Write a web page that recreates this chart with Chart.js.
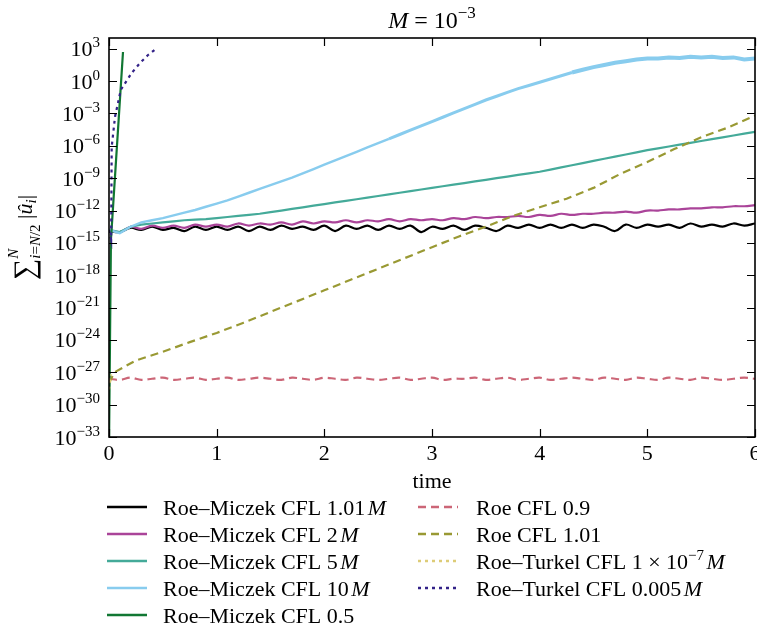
<!DOCTYPE html>
<html>
<head>
<meta charset="utf-8">
<script src="https://cdn.jsdelivr.net/npm/chart.js@4.4.1/dist/chart.umd.min.js"></script>
<style>
  html, body { margin: 0; padding: 0; background: #fff; }
  canvas { display: block; }
</style>
</head>
<body>
<canvas id="chart" width="757" height="626"></canvas>
<script>
'use strict';

const FONT = '"Liberation Serif", "Times New Roman", serif';
const BASE = 22;   // main text size
const SMALL = 15;  // super/subscripts

// series names, in plotting order
const seriesLabels = [
  'Roe–Miczek CFL 1.01 M', 'Roe–Miczek CFL 2 M', 'Roe–Miczek CFL 5 M',
  'Roe–Miczek CFL 10 M', 'Roe–Miczek CFL 0.5', 'Roe CFL 0.9', 'Roe CFL 1.01',
  'Roe–Turkel CFL 1 × 10^−7 M', 'Roe–Turkel CFL 0.005 M'
];
const seriesColors = ['#000000', '#AA4499', '#44AA99', '#88CCEE', '#117733',
  '#CC6677', '#999933', '#DDCC77', '#332288'];
const seriesDash = ['solid', 'solid', 'solid', 'solid', 'solid',
  'dashed', 'dashed', 'dotted', 'dotted'];

const xTicks = [0, 1, 2, 3, 4, 5, 6];
const yTickExps = [3, 0, -3, -6, -9, -12, -15, -18, -21, -24, -27, -30, -33];

// common time grid for the long runs
const timeGrid = [
  0.0, 0.1, 0.2, 0.3, 0.4, 0.5, 0.6, 0.7, 0.8, 0.9,
  1.0, 1.1, 1.2, 1.3, 1.4, 1.5, 1.6, 1.7, 1.8, 1.9,
  2.0, 2.1, 2.2, 2.3, 2.4, 2.5, 2.6, 2.7, 2.8, 2.9,
  3.0, 3.1, 3.2, 3.3, 3.4, 3.5, 3.6, 3.7, 3.8, 3.9,
  4.0, 4.1, 4.2, 4.3, 4.4, 4.5, 4.6, 4.7, 4.8, 4.9,
  5.0, 5.1, 5.2, 5.3, 5.4, 5.5, 5.6, 5.7, 5.8, 5.9,
  6.0
];

// values are stored as log10 exponents
const miczek101Exp = [
  -13.9, -14.0, -13.6, -13.8, -13.5, -13.8, -13.6, -13.9, -13.5, -13.8,
  -13.5, -13.8, -13.5, -13.9, -13.5, -13.8, -13.4, -13.7, -13.5, -13.8,
  -13.4, -13.9, -13.4, -13.7, -13.4, -13.8, -13.4, -13.7, -13.4, -14.0,
  -13.5, -13.7, -13.4, -13.8, -13.4, -13.6, -13.9, -13.4, -13.6, -13.3,
  -13.6, -13.3, -13.6, -13.3, -13.6, -13.3, -13.5, -13.9, -13.3, -13.6,
  -13.3, -13.5, -13.3, -13.6, -13.2, -13.5, -13.3, -13.5, -13.2, -13.4,
  -13.2
];
const miczek2Exp = [
  -13.8, -14.0, -13.5, -13.7, -13.4, -13.6, -13.4, -13.6, -13.3, -13.5,
  -13.3, -13.5, -13.2, -13.4, -13.2, -13.3, -13.1, -13.3, -13.0, -13.2,
  -13.0, -13.1, -12.9, -13.1, -12.9, -13.0, -12.8, -13.0, -12.8, -12.9,
  -12.8, -12.9, -12.7, -12.8, -12.6, -12.7, -12.6, -12.6, -12.5, -12.6,
  -12.4, -12.5, -12.3, -12.4, -12.3, -12.3, -12.2, -12.2, -12.1, -12.2,
  -12.0, -12.0, -11.9, -11.9, -11.8, -11.8, -11.7, -11.7, -11.6, -11.6,
  -11.5
];
const miczek5Exp = [
  -13.8, -14.0, -13.5, -13.3, -13.2, -13.1, -13.0, -12.9, -12.85, -12.8,
  -12.7, -12.6, -12.5, -12.4, -12.3, -12.15, -12.0, -11.85, -11.7, -11.55,
  -11.4, -11.25, -11.1, -10.95, -10.8, -10.65, -10.5, -10.35, -10.2, -10.05,
  -9.9, -9.75, -9.6, -9.45, -9.3, -9.15, -9.0, -8.85, -8.7, -8.55,
  -8.4, -8.2, -8.0, -7.8, -7.6, -7.4, -7.2, -7.0, -6.8, -6.6,
  -6.4, -6.23, -6.06, -5.89, -5.72, -5.55, -5.38, -5.21, -5.04, -4.87,
  -4.7
];
const miczek10Exp = [
  -13.8, -14.1, -13.5, -13.1, -12.9, -12.7, -12.45, -12.2, -11.95, -11.65,
  -11.35, -11.05, -10.7, -10.35, -10.0, -9.65, -9.3, -8.95, -8.55, -8.15,
  -7.75, -7.35, -6.95, -6.55, -6.15, -5.75, -5.35, -4.95, -4.55, -4.15,
  -3.75, -3.35, -2.95, -2.55, -2.15, -1.75, -1.4, -1.05, -0.7, -0.4,
  -0.1, 0.2, 0.5, 0.8, 1.05, 1.3, 1.5, 1.7, 1.85, 2.0,
  2.1, 2.1, 2.2, 2.15, 2.25, 2.2, 2.25, 2.15, 2.2, 2.0,
  2.1
];
const roe09Exp = [
  -27.6, -27.7, -27.5, -27.7, -27.6, -27.5, -27.7, -27.6, -27.5, -27.7,
  -27.6, -27.5, -27.7, -27.6, -27.5, -27.6, -27.7, -27.5, -27.6, -27.7,
  -27.5, -27.6, -27.7, -27.5, -27.6, -27.7, -27.6, -27.5, -27.7, -27.6,
  -27.5, -27.7, -27.6, -27.6, -27.5, -27.7, -27.6, -27.5, -27.7, -27.6,
  -27.5, -27.7, -27.6, -27.5, -27.6, -27.7, -27.5, -27.6, -27.7, -27.5,
  -27.6, -27.7, -27.5, -27.6, -27.7, -27.5, -27.6, -27.7, -27.6, -27.5,
  -27.6
];

const roe101Time = [0, 0.05, 0.25, 0.5, 0.75, 1.0, 1.25, 1.5, 1.75, 2.0, 2.25, 2.5, 2.75,
  3.0, 3.25, 3.5, 3.75, 4.0, 4.25, 4.5, 4.75, 5.0, 5.25, 5.5, 5.75, 6.0];
const roe101Exp = [-28.0, -27.0, -25.9, -25.1, -24.2, -23.35, -22.4, -21.4, -20.4, -19.4,
  -18.4, -17.4, -16.4, -15.4, -14.4, -13.5, -12.5, -11.7, -10.9, -9.9, -8.6, -7.5,
  -6.3, -5.2, -4.3, -3.2];

const miczek05Time = [0, 0.018, 0.13];
const miczek05Exp = [-34, -14.7, 2.7];

const turkel1e7Time = [0, 0.02];
const turkel1e7Exp = [-28.6, -27.2];

const turkel005Time = [0, 0.02, 0.025, 0.056, 0.11, 0.21, 0.29, 0.36, 0.45];
const turkel005Exp = [-13.8, -14.7, -6.1, -3.3, -0.8, 0.75, 1.7, 2.4, 3.1];

const seriesTimes = [timeGrid, timeGrid, timeGrid, timeGrid, miczek05Time,
  timeGrid, roe101Time, turkel1e7Time, turkel005Time];
const seriesExps = [miczek101Exp, miczek2Exp, miczek5Exp, miczek10Exp, miczek05Exp,
  roe09Exp, roe101Exp, turkel1e7Exp, turkel005Exp];

const DASHES = { solid: [], dashed: [8, 5], dotted: [3, 4] };

function toPoints(ts, exps) {
  return ts.map((t, i) => ({ x: t, y: Math.pow(10, exps[i]) }));
}

const datasets = seriesLabels.map((label, i) => ({
  label,
  data: toPoints(seriesTimes[i], seriesExps[i]),
  borderColor: seriesColors[i],
  backgroundColor: seriesColors[i],
  borderDash: DASHES[seriesDash[i]],
  borderWidth: 2.2,
  pointRadius: 0,
  tension: (i === 0 || i === 1 || i === 5) ? 0.35 : 0,
  order: 20 - i,
  // the 10M run gets noisier (thicker) once it saturates
  segment: i === 3 ? { borderWidth: c => c.p0.parsed.x > 4.2 ? 4 : (c.p0.parsed.x > 2.5 ? 3 : 2.4) } : undefined
}));

// trailing " M" italic, "^xx" superscript
function parseLabel(str) {
  const segs = [];
  let s = str;
  let italicM = false;
  if (s.endsWith(' M')) { s = s.slice(0, -2); italicM = true; }
  const m = s.match(/^(.*)\^(\S+)$/);
  if (m) {
    segs.push({ t: m[1] });
    segs.push({ t: m[2], size: SMALL, dy: -9 });
  } else {
    segs.push({ t: s });
  }
  if (italicM) { segs.push({ t: ' ', size: 10 }); segs.push({ t: 'M', it: true }); }
  return segs;
}

function segFont(seg) {
  return (seg.it ? 'italic ' : '') + (seg.size || BASE) + 'px ' + FONT;
}

function richWidth(ctx, segs) {
  let w = 0;
  segs.forEach(seg => {
    ctx.font = segFont(seg);
    if (!seg.stay) w += ctx.measureText(seg.t).width;
  });
  return w;
}

function drawRich(ctx, segs, x, y, align) {
  const w = richWidth(ctx, segs);
  let cx = align === 'center' ? x - w / 2 : (align === 'right' ? x - w : x);
  ctx.textAlign = 'left';
  ctx.textBaseline = 'alphabetic';
  segs.forEach(seg => {
    ctx.font = segFont(seg);
    ctx.fillText(seg.t, cx, y + (seg.dy || 0));
    if (!seg.stay) cx += ctx.measureText(seg.t).width;
  });
}

const axesDecor = {
  id: 'axesDecor',
  afterDraw(chart) {
    const ctx = chart.ctx;
    const a = chart.chartArea;
    const xs = chart.scales.x, ys = chart.scales.y;
    ctx.save();
    ctx.fillStyle = '#000';
    ctx.strokeStyle = '#000';

    // inward ticks on all four sides
    ctx.lineWidth = 1.2;
    ctx.setLineDash([]);
    ctx.beginPath();
    xTicks.forEach(t => {
      const px = Math.round(xs.getPixelForValue(t)) + 0.5;
      ctx.moveTo(px, a.bottom); ctx.lineTo(px, a.bottom - 8);
      ctx.moveTo(px, a.top); ctx.lineTo(px, a.top + 8);
    });
    yTickExps.forEach(e => {
      const py = Math.round(ys.getPixelForValue(Math.pow(10, e))) + 0.5;
      ctx.moveTo(a.left, py); ctx.lineTo(a.left + 8, py);
      ctx.moveTo(a.right, py); ctx.lineTo(a.right - 8, py);
    });
    ctx.stroke();

    // frame
    ctx.lineWidth = 1.6;
    ctx.strokeRect(a.left, a.top, a.right - a.left, a.bottom - a.top);

    // y tick labels 10^n
    yTickExps.forEach(e => {
      const py = ys.getPixelForValue(Math.pow(10, e));
      const ex = e < 0 ? '−' + (-e) : String(e);
      drawRich(ctx, [{ t: '10' }, { t: ex, size: SMALL, dy: -9 }], 100, py + 7.5, 'right');
    });

    // x tick labels
    xTicks.forEach(t => {
      drawRich(ctx, [{ t: String(t) }], xs.getPixelForValue(t), 460, 'center');
    });

    // x axis title
    const midX = (a.left + a.right) / 2;
    drawRich(ctx, [{ t: 'time' }], midX, 488, 'center');

    // title
    drawRich(ctx, [
      { t: 'M', it: true, size: 24 },
      { t: ' = ', size: 24 },
      { t: '10', size: 24 },
      { t: '−3', size: 17, dy: -10 }
    ], midX, 28, 'center');

    // y axis title, rotated
    ctx.save();
    ctx.translate(32, (a.top + a.bottom) / 2);
    ctx.rotate(-Math.PI / 2);
    drawRich(ctx, [
      { t: '∑', size: 30, dy: 2 },
      { t: 'N', it: true, size: SMALL, dy: -14, stay: true },
      { t: 'i', it: true, size: SMALL, dy: 8 },
      { t: '=', size: SMALL, dy: 8 },
      { t: 'N', it: true, size: SMALL, dy: 8 },
      { t: '/2', size: SMALL, dy: 8 },
      { t: ' |', size: BASE },
      { t: 'û', it: true, size: BASE },
      { t: 'i', it: true, size: SMALL, dy: 4 },
      { t: '|', size: BASE }
    ], 0, 0, 'center');
    ctx.restore();

    // legend: two columns, filled column by column
    const rowY = [507, 534, 561, 588, 615];
    const cols = [{ x0: 107, x1: 147, tx: 163 }, { x0: 418, x1: 458, tx: 476 }];
    seriesLabels.forEach((label, i) => {
      const col = cols[i < 5 ? 0 : 1];
      const y = rowY[i < 5 ? i : i - 5];
      ctx.save();
      ctx.strokeStyle = seriesColors[i];
      ctx.lineWidth = 2.4;
      ctx.setLineDash(DASHES[seriesDash[i]]);
      ctx.beginPath();
      ctx.moveTo(col.x0, y); ctx.lineTo(col.x1, y);
      ctx.stroke();
      ctx.restore();
      drawRich(ctx, parseLabel(label), col.tx, y + 7.5, 'left');
    });

    ctx.restore();
  }
};

Chart.defaults.font.family = FONT;

new Chart(document.getElementById('chart'), {
  type: 'line',
  data: { datasets },
  options: {
    responsive: false,
    animation: false,
    devicePixelRatio: 1,
    layout: { padding: { left: 109, right: 2, top: 38, bottom: 189 } },
    scales: {
      x: { type: 'linear', min: 0, max: 6, display: false },
      y: { type: 'logarithmic', min: 1e-33, max: 1e4, display: false }
    },
    plugins: { legend: { display: false }, tooltip: { enabled: false } }
  },
  plugins: [axesDecor]
});
</script>
</body>
</html>
